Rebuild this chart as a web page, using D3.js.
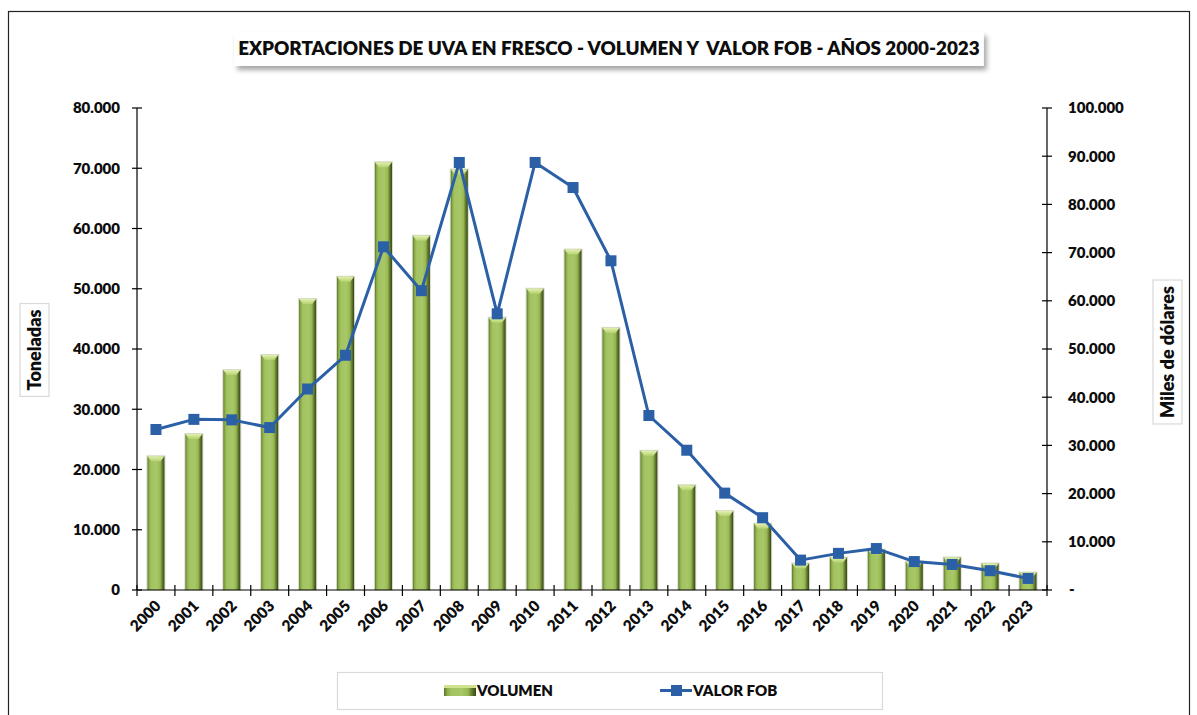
<!DOCTYPE html>
<html>
<head>
<meta charset="utf-8">
<script src="https://cdn.jsdelivr.net/npm/d3@7"></script>
<style>
  html, body { margin: 0; padding: 0; background: #fff; }
  svg { display: block; font-family: Lato, "Open Sans", "Liberation Sans", sans-serif; }
</style>
</head>
<body>
<svg id="chart" width="1197" height="715"></svg>
<script>
// Exportaciones de uva en fresco, 2000-2023
const years = ["2000","2001","2002","2003","2004","2005","2006","2007","2008","2009","2010","2011",
               "2012","2013","2014","2015","2016","2017","2018","2019","2020","2021","2022","2023"];
// Volumen (toneladas)
const volumen = [22200, 25900, 36500, 39000, 48300, 52000, 71000, 58800, 69800, 45200, 50000, 56500,
                 43500, 23100, 17400, 13100, 11000, 4400, 5400, 6700, 4700, 5400, 4400, 2900];
// Valor FOB (miles de dólares)
const valorFob = [33300, 35400, 35300, 33700, 41700, 48700, 71200, 62100, 88700, 57300, 88700, 83500,
                  68300, 36200, 29000, 20100, 15000, 6200, 7600, 8600, 5900, 5300, 4000, 2400];
const leftTicks = [0, 10000, 20000, 30000, 40000, 50000, 60000, 70000, 80000];
const rightTicks = [0, 10000, 20000, 30000, 40000, 50000, 60000, 70000, 80000, 90000, 100000];

const titleText = "EXPORTACIONES DE UVA EN FRESCO - VOLUMEN Y  VALOR FOB - AÑOS 2000-2023";
const leftTitle = "Toneladas";
const rightTitle = "Miles de dólares";
const seriesNames = ["VOLUMEN", "VALOR FOB"];

const svg = d3.select("#chart");
const lineColor = "#2B5FA6";
const ink = "#0d0d0d";

const plot = { left: 137, right: 1047, top: 108, bottom: 590 };

const locale = d3.formatLocale({ decimal: ",", thousands: ".", grouping: [3], currency: ["$", ""] });
const fmt = locale.format(",.0f");

const x = d3.scaleBand().domain(years).range([plot.left, plot.right]).paddingInner(0).paddingOuter(0);
const yL = d3.scaleLinear().domain([0, 80000]).range([plot.bottom, plot.top]);
const yR = d3.scaleLinear().domain([0, 100000]).range([plot.bottom, plot.top]);

const defs = svg.append("defs");
const g = defs.append("linearGradient").attr("id", "barGrad").attr("x1", "0").attr("x2", "1").attr("y1", "0").attr("y2", "0");
[[0, "#5a742a"], [0.1, "#8cad4a"], [0.22, "#a3c261"], [0.55, "#a8c766"], [0.75, "#98b855"], [0.86, "#67812f"], [1, "#37441a"]]
  .forEach(([o, c]) => g.append("stop").attr("offset", o).attr("stop-color", c));
const gt = defs.append("linearGradient").attr("id", "topGrad").attr("x1", "0").attr("x2", "0").attr("y1", "0").attr("y2", "1");
gt.append("stop").attr("offset", 0).attr("stop-color", "#e2f0b0");
gt.append("stop").attr("offset", 1).attr("stop-color", "#b5d270");
const sh = defs.append("filter").attr("id", "shadow").attr("x", "-5%").attr("y", "-40%").attr("width", "112%").attr("height", "200%");
sh.append("feDropShadow").attr("dx", 3).attr("dy", 4).attr("stdDeviation", 2.5).attr("flood-color", "#000").attr("flood-opacity", 0.35);

// outer frame
svg.append("rect").attr("x", 8.5).attr("y", 11.5).attr("width", 1181).attr("height", 720)
  .attr("fill", "none").attr("stroke", "#222").attr("stroke-width", 1.2);

// title box with shadow
const titleG = svg.append("g");
const titleRect = titleG.append("rect").attr("fill", "#fff").attr("filter", "url(#shadow)");
const title = titleG.append("text").attr("x", 609).attr("y", 55).attr("text-anchor", "middle")
  .attr("font-size", 18).attr("font-weight", 800).attr("fill", ink)
  .style("white-space", "pre").text(titleText);
{
  const targetW = 742;
  const w = title.node().getComputedTextLength();
  title.attr("font-size", 18 * targetW / w);
  const bb = title.node().getBBox();
  titleRect.attr("x", bb.x - 4).attr("y", 32).attr("width", bb.width + 8).attr("height", 34);
}

// bars
const bw = x.bandwidth() * 0.45;
const bars = svg.append("g");
years.forEach((yr, i) => {
  const cx = x(yr) + x.bandwidth() / 2;
  const top = yL(volumen[i]);
  const h = plot.bottom - top;
  bars.append("rect").attr("x", cx - bw / 2 - 0.5).attr("y", top - 0.5).attr("width", bw + 1).attr("height", h + 0.5)
    .attr("fill", "none").attr("stroke", "#d6dcc8").attr("stroke-width", 1);
  bars.append("rect").attr("x", cx - bw / 2).attr("y", top).attr("width", bw).attr("height", h)
    .attr("fill", "url(#barGrad)");
  const bev = Math.min(5, h / 2);
  bars.append("path")
    .attr("d", `M${cx - bw / 2},${top}L${cx + bw / 2},${top}L${cx + bw / 2 - 4},${top + bev}L${cx - bw / 2 + 4},${top + bev}Z`)
    .attr("fill", "url(#topGrad)");
});

// axes
const axisG = svg.append("g").attr("stroke", "#000").attr("stroke-width", 1.2);
axisG.append("line").attr("x1", plot.left).attr("x2", plot.left).attr("y1", plot.top).attr("y2", plot.bottom);
axisG.append("line").attr("x1", plot.right).attr("x2", plot.right).attr("y1", plot.top).attr("y2", plot.bottom);
axisG.append("line").attr("x1", plot.left).attr("x2", plot.right).attr("y1", plot.bottom).attr("y2", plot.bottom);

leftTicks.forEach(t => {
  axisG.append("line").attr("x1", plot.left - 5).attr("x2", plot.left + 5).attr("y1", yL(t)).attr("y2", yL(t));
  svg.append("text").attr("x", 120).attr("y", yL(t)).attr("dy", "0.36em").attr("text-anchor", "end")
    .attr("font-size", 15).attr("font-weight", 800).attr("fill", ink).text(fmt(t));
});
rightTicks.forEach(t => {
  axisG.append("line").attr("x1", plot.right - 5).attr("x2", plot.right + 5).attr("y1", yR(t)).attr("y2", yR(t));
  svg.append("text").attr("x", t === 0 ? 1069 : 1068).attr("y", yR(t)).attr("dy", "0.36em").attr("text-anchor", "start")
    .attr("font-size", 15).attr("font-weight", 800).attr("fill", ink).text(t === 0 ? "-" : fmt(t));
});
const bounds = years.map(yr => x(yr)).concat([plot.right]);
bounds.forEach(bx => {
  axisG.append("line").attr("x1", bx).attr("x2", bx).attr("y1", plot.bottom - 5).attr("y2", plot.bottom + 6);
});
years.forEach(yr => {
  const cx = x(yr) + x.bandwidth() / 2;
  svg.append("text").attr("transform", `translate(${cx + 6},${plot.bottom + 17}) rotate(-45)`)
    .attr("text-anchor", "end").attr("font-size", 15.5).attr("font-weight", 800).attr("fill", ink).text(yr);
});

// line series
const pts = years.map((yr, i) => [x(yr) + x.bandwidth() / 2, yR(valorFob[i])]);
svg.append("path").attr("d", d3.line()(pts)).attr("fill", "none").attr("stroke", lineColor)
  .attr("stroke-width", 3).attr("stroke-linejoin", "round");
const ms = 11;
svg.append("g").selectAll("rect").data(pts).join("rect")
  .attr("x", d => d[0] - ms / 2).attr("y", d => d[1] - ms / 2).attr("width", ms).attr("height", ms)
  .attr("fill", lineColor);

// axis titles in boxes
function boxedVertical(cx, cy, txt) {
  const gg = svg.append("g").attr("transform", `translate(${cx},${cy}) rotate(-90)`);
  const r = gg.append("rect").attr("fill", "#fff").attr("stroke", "#d9d9d9").attr("stroke-width", 1.2);
  const t = gg.append("text").attr("text-anchor", "middle").attr("dy", "0.35em")
    .attr("font-size", 18).attr("font-weight", 800).attr("fill", ink).text(txt);
  const bb = t.node().getBBox();
  r.attr("x", bb.x - 6).attr("y", -14.5).attr("width", bb.width + 12).attr("height", 29);
}
boxedVertical(34.5, 350, leftTitle);
boxedVertical(1167.5, 352, rightTitle);

// legend
svg.append("rect").attr("x", 337.5).attr("y", 672.5).attr("width", 545).attr("height", 37)
  .attr("fill", "#fff").attr("stroke", "#d9d9d9").attr("stroke-width", 1.2);
svg.append("rect").attr("x", 444).attr("y", 685).attr("width", 32).attr("height", 11).attr("fill", "url(#barGrad)");
svg.append("rect").attr("x", 444).attr("y", 685).attr("width", 32).attr("height", 3).attr("fill", "#cfe38e");
svg.append("text").attr("x", 477).attr("y", 691).attr("dy", "0.36em").attr("font-size", 15)
  .attr("font-weight", 800).attr("fill", ink).text(seriesNames[0]);
svg.append("line").attr("x1", 660).attr("x2", 692).attr("y1", 690.5).attr("y2", 690.5)
  .attr("stroke", lineColor).attr("stroke-width", 3);
svg.append("rect").attr("x", 671).attr("y", 685).attr("width", 11).attr("height", 11).attr("fill", lineColor);
svg.append("text").attr("x", 693).attr("y", 691).attr("dy", "0.36em").attr("font-size", 15)
  .attr("font-weight", 800).attr("fill", ink).text(seriesNames[1]);
</script>
</body>
</html>
